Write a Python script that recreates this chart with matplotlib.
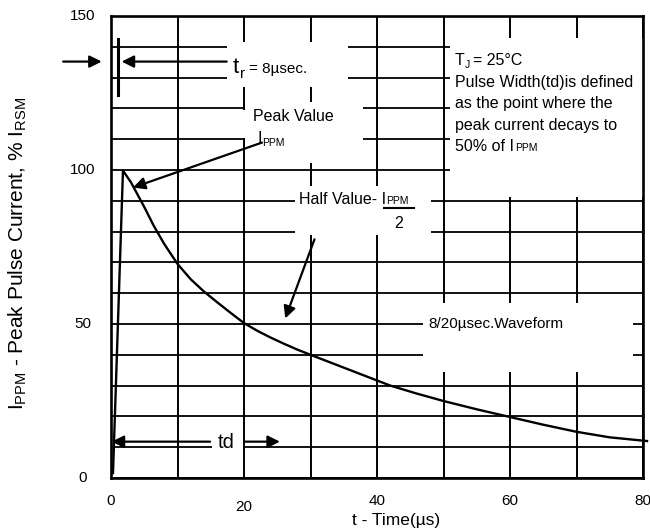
import matplotlib as mpl
mpl.use('Agg')
import matplotlib.pyplot as plt
from matplotlib.patches import Rectangle

plt.rcParams['font.family'] = ['Liberation Sans', 'DejaVu Sans']
plt.rcParams['mathtext.fontset'] = 'custom'
plt.rcParams['mathtext.rm'] = 'Liberation Sans'

# 8/20us pulse waveform
time_us = [0.3, 1.8, 3, 4, 5, 6.4, 8, 10, 12, 14, 16, 18, 20, 22, 24, 26, 28, 30,
           33, 36, 39, 42, 46, 50, 55, 60, 65, 70, 75, 80.6]
current_pct = [1.6, 99.8, 96, 92, 88, 82, 76, 69.5, 64.5, 60.5, 57, 53.6, 50.3, 47.8,
               45.6, 43.6, 41.7, 40, 37.5, 35, 32.5, 30, 27.4, 25, 22.3, 19.8, 17.3,
               15, 13.2, 12]

x_ticks = [0, 20, 40, 60, 80]
y_ticks = [0, 50, 100, 150]
x_grid = list(range(0, 81, 10))
y_grid = list(range(0, 151, 10))

# white label boxes that interrupt the grid: (x0, x1, y0, y1)
label_boxes = [
  (17.44, 35.64, 127.0, 141.6),   # t_r
  (20.15, 37.9, 102.3, 122.1),    # peak value
  (19.6, 20.4, 110.5, 119.5),
  (50.98, 80.5, 91.2, 142.9),     # T_J note
  (27.67, 48.12, 78.9, 94.8),     # half value
  (46.9, 78.5, 34.4, 56.8),       # waveform
  (15.2, 19.85, 8.8, 14.6),       # td
]

fig = plt.figure(figsize=(6.5, 5.3), dpi=100)
ax = fig.add_axes([111 / 650, 52 / 530, 532 / 650, 462 / 530])
ax.set_xlim(0, 80)
ax.set_ylim(0, 150)
ax.set_xticks([])
ax.set_yticks([])
for s in ax.spines.values():
  s.set_linewidth(1.9)

for x in x_grid:
  ax.axvline(x, color='k', lw=1.4, zorder=0.5)
for y in y_grid:
  ax.axhline(y, color='k', lw=1.3, zorder=0.5)
for x0, x1, y0, y1 in label_boxes:
  ax.add_patch(Rectangle((x0, y0), x1 - x0, y1 - y0, fc='white', ec='none', zorder=1))

ax.plot(time_us, current_pct, color='k', lw=1.7, zorder=3, clip_on=False,
        solid_joinstyle='round')

def arrow(tip, start):
  ax.annotate('', xy=tip, xytext=start, annotation_clip=False,
              arrowprops=dict(arrowstyle='-|>', color='k', lw=1.6, mutation_scale=18,
                              shrinkA=0, shrinkB=0), zorder=4)

arrow((1.6, 135.2), (17.4, 135.2))
arrow((-1.4, 135.2), (-7.2, 135.2))
ax.plot([1.1, 1.1], [124.4, 142.4], color='k', lw=2.2, zorder=4)
arrow((3.3, 94.3), (22.7, 108.9))
arrow((26.2, 51.8), (30.6, 77.5))
arrow((0.1, 11.8), (14.9, 11.8))
arrow((25.4, 11.8), (20.2, 11.8))

# annotations
txt = dict(color='k', va='baseline', ha='left', zorder=5)
ax.text(18.3, 131.5, 't', fontsize=16, **txt)
ax.text(19.35, 129.9, 'r', fontsize=11, **txt)
ax.text(20.75, 131.5, '= 8µsec.', fontsize=11, **txt)

ax.text(21.35, 115.9, 'Peak Value', fontsize=11.5, **txt)
ax.text(22.1, 108.8, 'I', fontsize=11.5, **txt)
ax.text(22.75, 107.9, 'PPM', fontsize=7.5, **txt)

note = 11.5
ax.text(51.7, 134.1, 'T', fontsize=note, **txt)
ax.text(53.25, 133.0, 'J', fontsize=7.5, **txt)
ax.text(54.5, 134.1, '= 25°C', fontsize=note, **txt)
ax.text(51.7, 126.9, 'Pulse Width(td)is defined', fontsize=note, **txt)
ax.text(51.7, 120.1, 'as the point where the', fontsize=note, **txt)
ax.text(51.7, 113.0, 'peak current decays to', fontsize=note, **txt)
ax.text(51.7, 106.2, '50% of I', fontsize=note, **txt)
ax.text(60.75, 106.1, 'PPM', fontsize=7.5, **txt)

ax.text(28.3, 89.0, 'Half Value- I', fontsize=11.5, **txt)
ax.text(41.3, 88.9, 'PPM', fontsize=7.5, **txt)
ax.plot([41.1, 45.6], [87.6, 87.6], color='k', lw=1.5, zorder=4)
ax.text(43.2, 81.2, '2', fontsize=11.5, color='k', ha='center', va='baseline', zorder=5)

ax.text(47.8, 48.7, '8/20µsec.Waveform', fontsize=11, **txt)
ax.text(17.37, 9.74, 'td', fontsize=14.5, color='k', ha='center', va='baseline', zorder=5)

# tick labels
xlab_drop = {20: -0.062}
for v in x_ticks:
  ax.text(v, xlab_drop.get(v, -0.05), str(v), transform=ax.get_xaxis_transform(),
          fontsize=11, ha='center', va='center')
for v in y_ticks:
  ax.text(-4.2, v, str(v), fontsize=11, ha='center', va='center', clip_on=False)

fig.text(18 / 650, 1 - 253 / 530,
         r'$\mathregular{I_{PPM}}$ - Peak Pulse Current, % $\mathregular{I_{RSM}}$',
         rotation=90, fontsize=15, ha='center', va='center')
fig.text(352 / 650, 2 / 530, 't - Time(µs)', fontsize=12.5, ha='left', va='bottom')

fig.savefig('out.png', dpi=100)
